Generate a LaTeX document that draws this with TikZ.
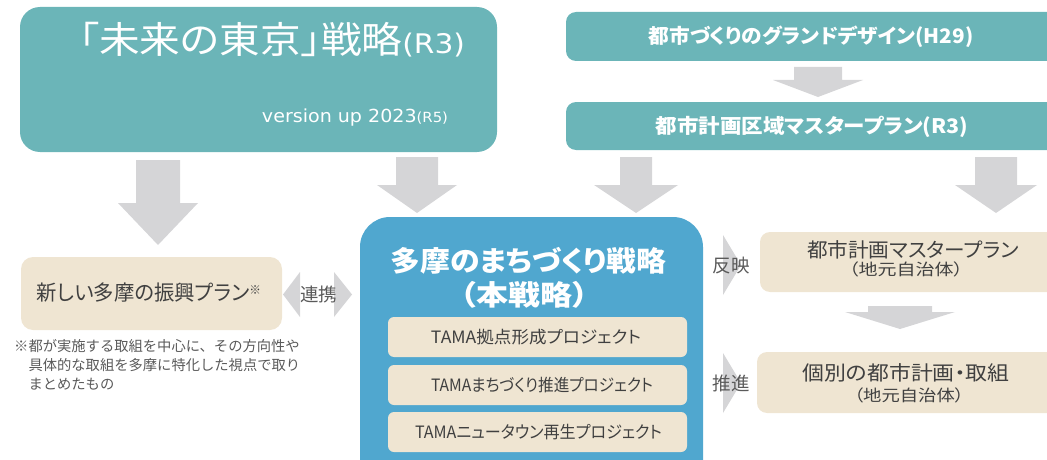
\documentclass[tikz,border=0pt]{standalone}
\usepackage{fontspec}
\usepackage{graphicx}
\setmainfont{Noto Sans CJK JP}
\newfontfamily\jpp{Noto Sans CJK JP}[RawFeature=+palt]
\newfontfamily\verd{DejaVu Sans}
\definecolor{tealbg}{HTML}{6BB5B8}
\definecolor{bluebg}{HTML}{50A7CF}
\definecolor{beigebg}{HTML}{EFE5D2}
\definecolor{arrowgray}{HTML}{D5D5D7}
\definecolor{txtdark}{HTML}{404040}
\definecolor{txtgray}{HTML}{5A5A5A}
\newcommand{\dnblock}[6]{\fill[arrowgray] ({#1-#5},#2) -- ({#1+#5},#2) -- ({#1+#5},#3) -- ({#1+#6},#3) -- (#1,#4) -- ({#1-#6},#3) -- ({#1-#5},#3) -- cycle;}
\newcommand{\fitw}[2]{\resizebox{#1}{\height}{#2}}
\tikzset{
  boxbase/.style={rectangle, inner sep=0pt, draw=none},
  tealbox/.style={boxbase, fill=tealbg, rounded corners=10pt},
  bluebox/.style={boxbase, fill=bluebg, rounded corners=30pt},
  beigebox/.style={boxbase, fill=beigebg, rounded corners=10pt},
  innerbox/.style={boxbase, fill=beigebg, rounded corners=6pt, minimum width=299pt, minimum height=40pt},
  lbl/.style={inner sep=0pt, align=center},
}
\begin{document}
\begin{tikzpicture}[x=1pt,y=-1pt]
\useasboundingbox (0,0) rectangle (1047,460);
\clip (0,0) rectangle (1047,460);
% boxes
\node[tealbox, rounded corners=20pt, minimum width=477pt, minimum height=145pt] (mirai) at (258.5,79.5) {};
\node[tealbox, minimum width=501pt, minimum height=49pt] (grand) at (816.5,36.5) {};
\node[tealbox, minimum width=501pt, minimum height=48pt] (kuiki) at (816.5,126) {};
\node[bluebox, minimum width=343pt, minimum height=273pt] (tama) at (531.5,353.5) {};
\node[beigebox, rounded corners=12pt, minimum width=261pt, minimum height=73pt] (shinko) at (151.5,293.5) {};
\node[beigebox, minimum width=307pt, minimum height=60pt] (mp) at (913.5,262) {};
\node[beigebox, minimum width=310pt, minimum height=61pt] (kobetsu) at (912,382.5) {};
\node[innerbox] (p1) at (537.5,337) {};
\node[innerbox] (p2) at (537.5,385) {};
\node[innerbox] (p3) at (537.5,432) {};
% block arrows
\dnblock{158}{160}{203}{245}{22}{40}
\dnblock{417}{157}{185}{213}{21}{40}
\dnblock{636}{157}{185}{213}{16}{42}
\dnblock{996}{157}{185}{213}{21}{41}
\dnblock{818}{67}{80}{97}{24}{45}
\dnblock{900}{306}{312}{329}{32}{55}
% right chevrons
\fill[arrowgray] (723,235) -- (741,265) -- (723,295) -- cycle;
\fill[arrowgray] (723,353) -- (741,383) -- (723,413) -- cycle;
% double arrow
\fill[arrowgray] (300,272) -- (283,294.5) -- (300,317) -- cycle;
\fill[arrowgray] (334,272) -- (352,294.5) -- (334,317) -- cycle;
% texts
\node[lbl, text=white] (miraiT) at (272,40) {\fitw{386pt}{\jpp\fontsize{37}{40}\selectfont 「未来の東京」戦略{\verd\fontsize{27}{30}\selectfont(R3)}}};
\node[lbl, text=white] (miraiV) at (355,118) {\fitw{186pt}{\verd\fontsize{18}{20}\selectfont version up 2023{\fontsize{14}{16}\selectfont(R5)}}};
\node[lbl, text=white] (grandT) at (811,37) {\fitw{325pt}{\jpp\bfseries\fontsize{20}{22}\selectfont 都市づくりのグランドデザイン(H29)}};
\node[lbl, text=white] (kuikiT) at (812,127) {\fitw{313pt}{\jpp\bfseries\fontsize{20}{22}\selectfont 都市計画区域マスタープラン(R3)}};
\node[lbl, text=white] (tamaT) at (528.5,261) {\fitw{276pt}{\jpp\bfseries\fontsize{28}{30}\selectfont 多摩のまちづくり戦略}};
\node[lbl, text=white] (tamaS) at (524.5,295) {\fitw{128pt}{\jpp\bfseries\fontsize{28}{30}\selectfont （本戦略）}};
\node[lbl, text=txtdark] (p1T) at (536,337) {\fitw{210pt}{\jpp\fontsize{17}{19}\selectfont TAMA拠点形成プロジェクト}};
\node[lbl, text=txtdark] (p2T) at (542,385) {\fitw{222pt}{\jpp\fontsize{17}{19}\selectfont TAMAまちづくり推進プロジェクト}};
\node[lbl, text=txtdark] (p3T) at (538.5,432) {\fitw{247pt}{\jpp\fontsize{17}{19}\selectfont TAMAニュータウン再生プロジェクト}};
\node[lbl, text=txtdark] (shinkoT) at (149,293) {\fitw{224pt}{\jpp\fontsize{21}{23}\selectfont 新しい多摩の振興プラン\raisebox{6pt}{\fontsize{12}{12}\selectfont ※}}};
\node[lbl, text=txtgray, font=\fontsize{18.5}{20}\selectfont] (renkei) at (318.5,294) {連携};
\node[lbl, text=txtgray, font=\fontsize{14.3}{19}\selectfont, anchor=north west, align=left] (note) at (14,339) {※都が実施する取組を中心に、その方向性や\\\hspace*{1em}具体的な取組を多摩に特化した視点で取り\\\hspace*{1em}まとめたもの};
\node[lbl, text=txtgray, font=\fontsize{18.5}{20}\selectfont] (hanei) at (731,266) {反映};
\node[lbl, text=txtgray, font=\fontsize{18.5}{20}\selectfont] (suishin) at (731,383) {推進};
\node[lbl, text=txtdark] (mpT) at (913,250) {\fitw{212pt}{\jpp\fontsize{20}{22}\selectfont 都市計画マスタープラン}};
\node[lbl, text=txtdark] (mpS) at (906,269) {\fitw{114pt}{\jpp\fontsize{16}{18}\selectfont （地元自治体）}};
\node[lbl, text=txtdark] (kobetsuT) at (906,373) {\fitw{207pt}{\jpp\fontsize{20}{22}\selectfont 個別の都市計画・取組}};
\node[lbl, text=txtdark] (kobetsuS) at (909,395) {\fitw{110pt}{\jpp\fontsize{16}{18}\selectfont （地元自治体）}};
\end{tikzpicture}
\end{document}
